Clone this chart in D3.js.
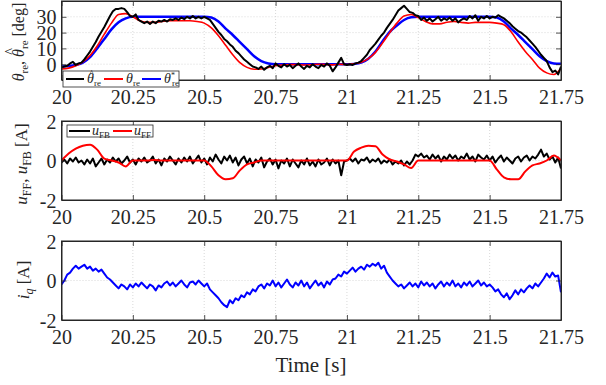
<!DOCTYPE html>
<html><head><meta charset="utf-8">
<script src="https://cdn.jsdelivr.net/npm/d3@7/dist/d3.min.js"></script>
<style>body{margin:0;background:#fff}svg{display:block}</style>
</head><body><svg id="c" width="606" height="385"></svg>
<script>
// ---------- DATA ----------
const tStart = 20, tEnd = 21.75;
const dtFast = 0.01, dtSlow = 0.025;
const xTicks = [20, 20.25, 20.5, 20.75, 21, 21.25, 21.5, 21.75];
const xTickLabels = ["20","20.25","20.5","20.75","21","21.25","21.5","21.75"];
const thetaTicks = [0, 10, 20, 30];
const ampTicks = [-2, 0, 2];

// estimated angle (black), sampled every 0.01 s
const thetaHat = [
 -2,-1.5,-1,0.5,1.5,-0.5,0.5,1,3,5.5,
 8,11,14,17.5,20.5,23.5,27,30.5,33.5,35,
 35,35.5,35,33,30.5,30,31.5,28,27,26,
 27,25.5,27,26,27.5,27,28,27,28.5,28,
 29,28,29.5,28.5,30,29,30.5,29,30,29,
 30,29,28,25.5,23,20.5,18.5,16,14.5,12.5,
 11,8.5,7,5,3,1.5,0,-1.5,-2,-3,
 -1.5,-3.5,-2,-1,-2.5,0.5,-1,-2,0,-1.5,
 -0.5,-2.5,-1,0.5,-1.5,-3,-1,-2,0,-1.5,
 -2.5,-0.5,-1.5,0.5,-1,-4.5,-2,1,4,0,
 -0.5,0,-0.5,0.5,1,2,4,6,9,11,
 13,15.5,18,20,23,25.5,28,31,34,35.5,
 37,35,33,32.5,31,30.5,28,29.5,27.5,29,
 27,28.5,30,27.5,29,28,29.5,27.5,29,26.5,
 28,29,28,30.5,29,31,27.5,30,29,30.5,
 29,30,29.5,31,30,29,27.5,26,24,22.5,
 21,20,18.5,17,15,13,11,8.5,6,4,
 2,-2,-5,-4,-6.5,-1.5
];
// measured angle (red), sampled every 0.025 s
const thetaRe = [
 -3,-2.5,-1,1.5,5.5,11.5,19,26,31.5,32,
 30,27.5,26.5,26.5,27,27.5,27.5,27.5,27.5,27,
 26,23,18,12,6,1,-2,-3.2,-3,-2,
 -1,-0.5,-0.3,-0.3,-0.5,-0.3,0,-0.2,-0.4,0,
 -0.2,0.3,1.2,3.5,7.5,13.5,20,26,30.5,31.5,
 29.5,27,25.5,25.5,26.5,27,26.5,26,26.5,26.5,
 26.5,26,25,20.5,14,8,3,-2.5,-5.5,-6.5,
 -2.5
];
// reference angle (blue), sampled every 0.025 s
const thetaRef = [
 -1.5,-1.2,-0.5,1,4.5,10,16,22,26.5,29,
 30,30,30,30,30,30,30,30,30,30,
 30,29.5,27,22.5,18.5,14,9.5,5,2,0.5,
 0,0,0,0,0,0,0,0,0,0,
 0,0.2,1,3.5,8,14.5,20.5,24.5,28,29.7,
 30,30,30,30,30,30,30,30,30,30,
 30,29.5,27,22.5,18.5,14,9.5,5,2,0.5,
 0.3
];
// feedback voltage u_FB (black), every 0.01 s
const uFB = [
 -0.1,0.05,-0.15,0.1,-0.05,0.15,-0.1,0,-0.2,0.05,
 -0.15,0.1,-0.3,-0.1,0.1,-0.2,0.05,-0.1,0.15,-0.05,
 0.1,-0.15,0,0.2,-0.1,0.05,-0.2,0.1,-0.05,0.15,
 -0.1,0,0.2,-0.15,0.05,-0.25,0.1,-0.05,0.2,0,
 -0.2,0.1,-0.1,0.15,-0.05,0.2,-0.15,0.05,0.25,-0.1,
 0.1,-0.2,0.15,-0.05,0.3,0.05,-0.15,0.2,0,0.25,
 -0.1,0.15,-0.25,0.05,0.2,-0.15,0.1,-0.3,0.05,-0.1,
 0.15,-0.35,-0.05,0.1,-0.2,0.05,-0.4,0,-0.15,0.1,
 -0.3,0.05,-0.15,-0.35,0,-0.2,0.1,-0.25,-0.05,-0.3,
 0.05,-0.2,-0.1,0.1,-0.25,0.05,-0.15,0,-0.75,-0.05,
 0,0.1,-0.05,0.1,-0.15,0.05,0,0.15,-0.1,0.05,
 -0.05,0.1,-0.15,0,-0.1,0.05,-0.2,-0.05,-0.15,0,
 -0.25,-0.05,-0.2,0,0.3,0.2,0.35,0.15,0.25,0.05,
 0.3,0.1,0.25,-0.05,0.2,0.05,0.3,0.1,0.25,0,
 0.2,0.1,0.35,0.05,0.2,-0.05,0.3,0.15,0.05,0.25,
 0,0.2,-0.1,0.1,0.25,-0.05,0.15,0,-0.15,0.1,
 0.2,-0.05,0.15,0.25,0,0.2,0.1,0.3,0.55,0.2,
 0.35,0.05,0.2,-0.1,0.15,-0.4
];
// feedforward voltage u_FF (red), every 0.025 s
const uFF = [
 0,0.35,0.6,0.75,0.8,0.55,0.1,0,-0.1,-0.3,
 0,0,0,0.02,0,0,0,0,0,0,
 0,-0.3,-0.75,-0.95,-0.9,-0.5,-0.2,-0.1,0,0,
 0,0,0,0,0,0,0,0,0,0,
 0,0.45,0.65,0.75,0.72,0.3,0.05,-0.05,-0.2,-0.38,
 0,0,0,0,0,0,0,0,0,0,
 0,-0.45,-0.85,-0.95,-0.95,-0.55,-0.25,-0.15,0,0.25,
 0
];
// q-axis current (blue), every 0.01 s
const iq = [
 -0.2,0,0.3,0.4,0.6,0.75,0.6,0.7,0.8,0.6,
 0.7,0.5,0.6,0.45,0.55,0.35,0.15,0.05,-0.1,-0.25,
 -0.4,-0.2,-0.3,-0.45,-0.2,-0.35,-0.15,-0.3,-0.1,-0.25,
 -0.4,-0.2,-0.3,-0.5,-0.25,-0.35,-0.15,-0.05,-0.25,-0.1,
 -0.3,-0.15,0,-0.2,-0.35,-0.1,-0.05,-0.2,0,-0.15,
 -0.3,-0.15,-0.45,-0.6,-0.75,-0.9,-1.1,-1.25,-1.35,-1,
 -1.15,-0.9,-1,-0.75,-0.85,-0.6,-0.7,-0.45,-0.55,-0.3,
 -0.2,-0.4,-0.15,-0.25,0,-0.3,-0.1,-0.35,-0.15,0.05,
 -0.2,-0.35,-0.1,-0.25,0,-0.3,-0.1,-0.4,-0.2,0,
 -0.25,-0.1,-0.35,-0.05,-0.2,0.05,0.1,0.3,0.2,0.45,
 0.35,0.5,0.65,0.45,0.6,0.7,0.55,0.8,0.7,0.85,
 0.75,0.9,0.6,0.75,0.4,0.2,0,-0.15,-0.3,-0.2,
 -0.4,-0.25,-0.1,-0.3,-0.15,-0.35,-0.05,-0.25,-0.1,-0.3,
 -0.15,-0.4,-0.2,-0.05,-0.3,-0.1,-0.25,0,-0.3,-0.15,
 -0.35,-0.1,-0.25,-0.05,-0.3,-0.15,0,-0.25,-0.1,-0.3,
 -0.2,-0.35,-0.55,-0.45,-0.7,-0.85,-0.65,-0.95,-0.75,-0.5,
 -0.7,-0.45,-0.6,-0.4,-0.25,-0.4,-0.15,-0.3,-0.1,0.1,
 0.35,0.15,0.4,0.2,0.25,-0.6
];

// ---------- CHART ----------
const FONT = '"Liberation Serif"';
const svg = d3.select("#c");
const L = 61.5, R = 561;
const panelTops = [1, 121, 241], PH = 79;
const axisColor = "#262626";
const txt = (sel, size) => sel.style("font-family", FONT).style("font-size", size + "px");

const x = d3.scaleLinear().domain([tStart, tEnd]).range([L, R]);
const toPts = (arr, dt) => arr.map((v, i) => [tStart + i * dt, v]);

function panel(idx, ydom, yticks, series) {
  const top = panelTops[idx], bot = top + PH;
  const y = d3.scaleLinear().domain(ydom).range([bot, top]);
  const g = svg.append("g");
  const cid = "clip" + idx;
  svg.append("clipPath").attr("id", cid).append("rect")
    .attr("x", L).attr("y", top).attr("width", R - L).attr("height", PH);
  const grid = g.append("g").attr("stroke", "#cfcfcf").attr("stroke-width", 0.8)
    .attr("stroke-dasharray", "1,2");
  xTicks.slice(1, -1).forEach(t => grid.append("line")
    .attr("x1", x(t)).attr("x2", x(t)).attr("y1", top).attr("y2", bot));
  yticks.forEach(v => { if (v > ydom[0] && v < ydom[1]) grid.append("line")
    .attr("x1", L).attr("x2", R).attr("y1", y(v)).attr("y2", y(v)); });
  const lg = g.append("g").attr("clip-path", `url(#${cid})`);
  series.forEach(s => {
    const line = d3.line().x(d => x(d[0])).y(d => y(d[1]))
      .curve(s.smooth ? d3.curveMonotoneX : d3.curveLinear);
    lg.append("path").datum(toPts(s.data, s.dt)).attr("fill", "none")
      .attr("stroke", s.color).attr("stroke-width", s.w)
      .attr("stroke-linejoin", "round").attr("d", line);
  });
  const ax = g.append("g");
  const xa = ax.append("g").attr("transform", `translate(0,${bot})`)
    .call(d3.axisBottom(x).tickValues(xTicks).tickSizeInner(-5).tickSizeOuter(0)
      .tickFormat((d, i) => xTickLabels[i]).tickPadding(10));
  const xt = ax.append("g").attr("transform", `translate(0,${top})`)
    .call(d3.axisTop(x).tickValues(xTicks).tickSizeInner(-5).tickSizeOuter(0).tickFormat(""));
  const yl = ax.append("g").attr("transform", `translate(${L},0)`)
    .call(d3.axisLeft(y).tickValues(yticks).tickSizeInner(-5).tickSizeOuter(0).tickPadding(5)
      .tickFormat(d => d < 0 ? "-" + Math.abs(d) : String(d)));
  const yr = ax.append("g").attr("transform", `translate(${R},0)`)
    .call(d3.axisRight(y).tickValues(yticks).tickSizeInner(-5).tickSizeOuter(0).tickFormat(""));
  [xa, xt, yl, yr].forEach(a => {
    a.selectAll("path").attr("stroke", axisColor).attr("stroke-width", 1);
    a.selectAll("line").attr("stroke", axisColor).attr("stroke-width", 0.8);
    txt(a.selectAll("text").attr("fill", axisColor), 20);
  });
  xa.selectAll("text").attr("dy", "0.71em");
  yl.selectAll("text").attr("dy", "0.35em");
  ax.append("rect").attr("x", L).attr("y", top).attr("width", R - L).attr("height", PH)
    .attr("fill", "none").attr("stroke", axisColor).attr("stroke-width", 1);
  return { g, y, top, bot };
}

panel(0, [-10, 40], thetaTicks, [
  { data: thetaRef, dt: dtSlow, color: "#0000ff", w: 2.5, smooth: true },
  { data: thetaRe, dt: dtSlow, color: "#ff0000", w: 1.6, smooth: true },
  { data: thetaHat, dt: dtFast, color: "#000000", w: 2, smooth: false }
]);
panel(1, [-2, 2], ampTicks, [
  { data: uFB, dt: dtFast, color: "#000000", w: 2, smooth: false },
  { data: uFF, dt: dtSlow, color: "#ff0000", w: 2, smooth: true }
]);
panel(2, [-2, 2], ampTicks, [
  { data: iq, dt: dtFast, color: "#0000ff", w: 2, smooth: false }
]);

// ---------- y labels ----------
function ylabel(cx, cy, size, parts) {
  const g = svg.append("g").attr("transform", `translate(${cx},${cy}) rotate(-90)`);
  const t = txt(g.append("text").attr("fill", axisColor), size);
  const hats = [];
  parts.forEach(p => {
    const ts = t.append("tspan").text(p.s);
    if (p.it) ts.style("font-style", "italic");
    if (p.sub) ts.style("font-size", Math.round(size * 0.7) + "px").attr("dy", 4);
    if (p.up) ts.attr("dy", -4);
    if (p.hat) hats.push(ts);
  });
  const w = t.node().getComputedTextLength();
  t.attr("x", -w / 2);
  hats.forEach(ts => {
    const n = ts.node();
    const s = n.getStartPositionOfChar(0), e = n.getEndPositionOfChar(0);
    txt(g.append("text").attr("x", (s.x + e.x) / 2 + 1.5).attr("y", s.y - 9)
      .attr("text-anchor", "middle").attr("fill", axisColor), 14).text("^");
  });
}
ylabel(24, 42, 16, [
  { s: "θ", it: true }, { s: "re", sub: true }, { s: ", ", up: true },
  { s: "θ", it: true, hat: true }, { s: "re", sub: true }, { s: " [deg]", up: true }
]);
ylabel(27, 164, 17, [
  { s: "u", it: true }, { s: "FF", sub: true }, { s: ", ", up: true },
  { s: "u", it: true }, { s: "FB", sub: true }, { s: " [A]", up: true }
]);
ylabel(29, 280, 17, [
  { s: "i", it: true }, { s: "q", it: true, sub: true }, { s: " [A]", up: true }
]);
txt(svg.append("text").attr("x", 311).attr("y", 372).attr("text-anchor", "middle")
  .attr("fill", axisColor), 21).text("Time [s]");

// ---------- legends ----------
function legend(bx, by, bw, bh, items) {
  const g = svg.append("g");
  g.append("rect").attr("x", bx).attr("y", by).attr("width", bw).attr("height", bh)
    .attr("fill", "#fff").attr("stroke", axisColor).attr("stroke-width", 0.8);
  const cy = by + bh / 2;
  items.forEach(it => {
    g.append("line").attr("x1", it.x1).attr("x2", it.x2).attr("y1", cy).attr("y2", cy)
      .attr("stroke", it.color).attr("stroke-width", 2);
    const t = txt(g.append("text").attr("x", it.tx).attr("y", cy + 4).attr("fill", axisColor), 14);
    t.append("tspan").style("font-style", "italic").text(it.sym);
    if (it.sup) t.append("tspan").style("font-size", "8px").attr("dy", -5).text(it.sup);
    t.append("tspan").style("font-size", "9px").attr("dy", it.sup ? 8 : 3)
      .attr("dx", it.sup ? -3 : 0).text(it.sub);
    if (it.hat) txt(g.append("text").attr("x", it.tx + 4.5).attr("y", cy - 2)
      .attr("text-anchor", "middle").attr("fill", axisColor), 10).text("^");
  });
}
legend(63, 71, 116, 16, [
  { x1: 66, x2: 84, color: "#000", tx: 87, sym: "θ", sub: "re", hat: true },
  { x1: 104, x2: 123, color: "#ff0000", tx: 126, sym: "θ", sub: "re" },
  { x1: 142, x2: 161, color: "#0000ff", tx: 164, sym: "θ", sup: "*", sub: "re" }
]);
legend(67, 125, 86, 12, [
  { x1: 69, x2: 90, color: "#000", tx: 92, sym: "u", sub: "FB" },
  { x1: 113, x2: 132, color: "#ff0000", tx: 134, sym: "u", sub: "FF" }
]);
</script></body></html>
